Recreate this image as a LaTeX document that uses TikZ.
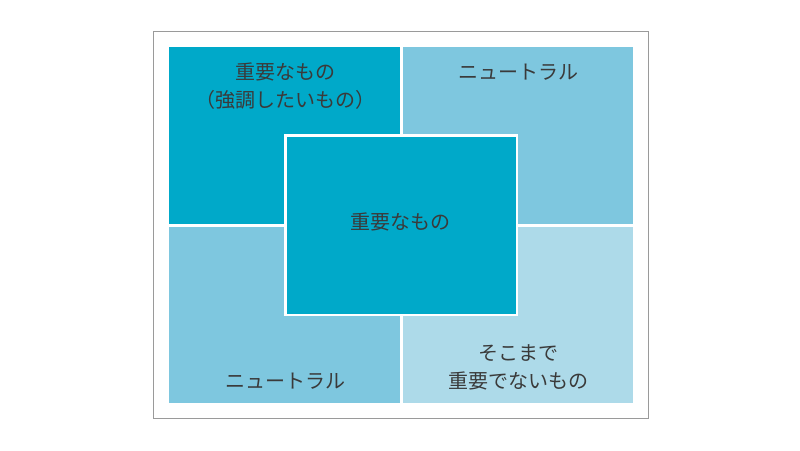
\documentclass[tikz,border=0pt]{standalone}
\usepackage{fontspec}
\setmainfont{Noto Sans CJK JP}
\begin{document}
\begin{tikzpicture}[x=1pt,y=-1pt,
  quad/.style={inner sep=0pt,outer sep=0pt,anchor=center},
  lbl/.style={inner sep=0pt,align=center,text=txt,font=\fontsize{20}{28}\selectfont}]
\definecolor{dark}{HTML}{00A9C9}
\definecolor{mid}{HTML}{7EC7DF}
\definecolor{light}{HTML}{ADDAE9}
\definecolor{frame}{HTML}{9A9A9A}
\definecolor{txt}{HTML}{3A3A3A}
\useasboundingbox (0,0) rectangle (800,450);
\fill[white] (0,0) rectangle (800,450);
\node[quad,draw=frame,line width=1.2pt,minimum width=495pt,minimum height=387pt] (frm) at (401,225) {};
\node[quad,fill=dark,minimum width=231pt,minimum height=177pt] (tl) at (284.5,135.5) {};
\node[quad,fill=mid,minimum width=230pt,minimum height=177pt] (tr) at (518,135.5) {};
\node[quad,fill=mid,minimum width=231pt,minimum height=176pt] (bl) at (284.5,315) {};
\node[quad,fill=light,minimum width=230pt,minimum height=176pt] (br) at (518,315) {};
\node[quad,fill=dark,draw=white,line width=2.5pt,minimum width=231.5pt,minimum height=179.5pt] (ctr) at (401,225) {};
\node[lbl] (ttl) at (285,86) {重要なもの\\（強調したいもの）};
\node[lbl] (ttr) at (518,72) {ニュートラル};
\node[lbl] (tbl) at (285,381) {ニュートラル};
\node[lbl] (tbr) at (518,367) {そこまで\\重要でないもの};
\node[lbl] (tctr) at (400,222) {重要なもの};
\end{tikzpicture}
\end{document}
